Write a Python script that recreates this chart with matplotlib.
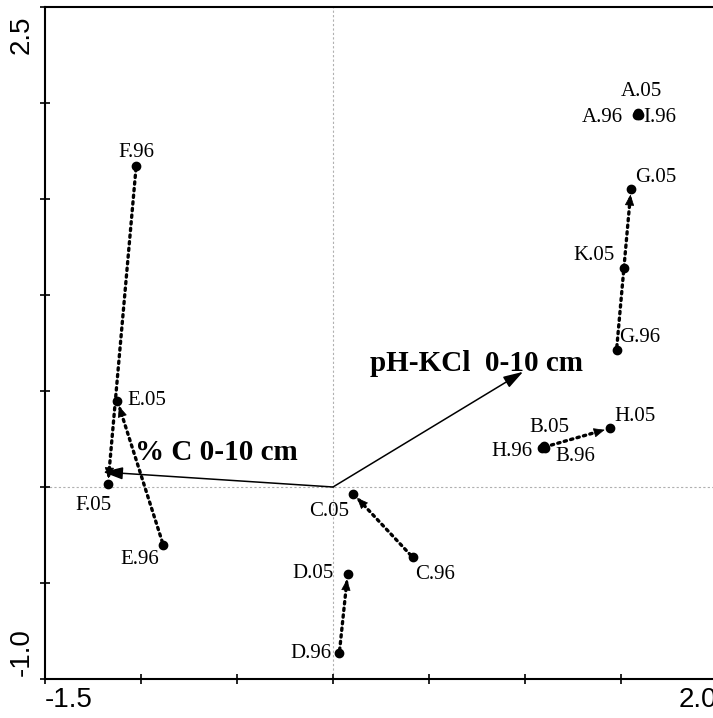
import numpy as np
import matplotlib
matplotlib.use("Agg")
import matplotlib.pyplot as plt


# site scores (axis 1, axis 2)
site_names = ["A.05", "A.96", "I.96", "B.05", "B.96", "H.96", "H.05",
              "C.05", "C.96", "D.05", "D.96", "E.05", "E.96",
              "F.05", "F.96", "G.05", "G.96", "K.05"]
site_x = [1.590, 1.585, 1.595, 1.100, 1.102, 1.090, 1.443,
          0.106, 0.415, 0.076, 0.033, -1.123, -0.884,
          -1.172, -1.025, 1.552, 1.477, 1.517]
site_y = [1.948, 1.940, 1.938, 0.212, 0.202, 0.205, 0.306,
          -0.036, -0.366, -0.453, -0.865, 0.449, -0.302,
          0.016, 1.673, 1.552, 0.715, 1.139]

# 1996 -> 2005 trajectories
traj_from = ["F.96", "E.96", "C.96", "D.96", "G.96", "H.96"]
traj_to = ["F.05", "E.05", "C.05", "D.05", "G.05", "H.05"]

# environmental vectors
env_names = ["pH-KCl  0-10 cm", "% C 0-10 cm"]
env_x = [0.99, -1.198]
env_y = [0.60, 0.078]

# axis ranges shown as end labels
x_range = [-1.5, 2.0]
y_range = [-1.0, 2.5]

# label placement: offset in pixels, ha, va
label_pos = {
    "A.05": (3, 17, "center", "baseline"),
    "A.96": (-14, -3, "right", "center"),
    "I.96": (4, -3, "left", "center"),
    "B.05": (5, 14, "center", "baseline"),
    "B.96": (11, -8, "left", "center"),
    "H.96": (-10, -4, "right", "center"),
    "H.05": (4, 7, "left", "baseline"),
    "C.05": (-4, -8, "right", "top"),
    "C.96": (2, -8, "left", "top"),
    "D.05": (-14, 0, "right", "center"),
    "D.96": (-8, 0, "right", "center"),
    "E.05": (10, 0, "left", "center"),
    "E.96": (-24, -5, "center", "top"),
    "F.05": (-15, -12, "center", "top"),
    "F.96": (0, 9, "center", "baseline"),
    "G.05": (4, 7, "left", "baseline"),
    "G.96": (3, 8, "left", "baseline"),
    "K.05": (-10, 8, "right", "baseline"),
}
env_label_pos = [(0.193, 0.604), (-1.031, 0.14)]

serif = "Liberation Serif"
sans = "Liberation Sans"

fig = plt.figure(figsize=(7.13, 7.18), dpi=100)
ax = fig.add_axes([45 / 713, 39 / 718, 672 / 713, 672 / 718])
ax.set_xlim(x_range)
ax.set_ylim(y_range)

ax.axhline(0, color="#b0b0b0", lw=0.8, ls=(0, (2, 2)), zorder=0)
ax.axvline(0, color="#b0b0b0", lw=0.8, ls=(0, (2, 2)), zorder=0)

pos = {n: np.array([x, y]) for n, x, y in zip(site_names, site_x, site_y)}

# trajectories: dotted shaft + solid small head
for a, b in zip(traj_from, traj_to):
    p0, p1 = pos[a], pos[b]
    d = (p1 - p0) / np.hypot(*(p1 - p0))
    ax.annotate("", xy=p1, xytext=p0,
                arrowprops=dict(arrowstyle="-", lw=2.4, ls=(0, (0.7, 1.3)),
                                color="black", shrinkA=2, shrinkB=6))
    ax.annotate("", xy=p1, xytext=p1 - 0.06 * d,
                arrowprops=dict(arrowstyle="-|>,head_length=0.7,head_width=0.3",
                                lw=0.5, color="black", shrinkA=0, shrinkB=4,
                                mutation_scale=10))

ax.plot(site_x, site_y, "o", color="black", ms=6, zorder=3)

for n, x, y in zip(site_names, site_x, site_y):
    dx, dy, ha, va = label_pos[n]
    ax.annotate(n, (x, y), xytext=(dx, dy), textcoords="offset pixels",
                ha=ha, va=va, fontsize=15, family=serif)

# environmental arrows
for name, x, y, (lx, ly) in zip(env_names, env_x, env_y, env_label_pos):
    ax.annotate("", xy=(x, y), xytext=(0, 0),
                arrowprops=dict(arrowstyle="-|>,head_length=0.8,head_width=0.25",
                                lw=1.1, color="black", shrinkA=0, shrinkB=0,
                                mutation_scale=15))
    ax.text(lx, ly, name, fontsize=21, fontweight="bold", family=serif,
            ha="left", va="baseline")

# axes frame
for side in ["left", "bottom", "top"]:
    ax.spines[side].set_linewidth(1.5)
ax.spines["right"].set_visible(False)
ax.set_xticks(np.arange(x_range[0], x_range[1] + 0.01, 0.5))
ax.set_yticks(np.arange(y_range[0], y_range[1] + 0.01, 0.5))
ax.tick_params(direction="inout", length=7, width=1.2,
               labelbottom=False, labelleft=False, top=False, right=False)

# range labels at the axis ends
ax.text(0, -0.012, f"{x_range[0]:.1f}", transform=ax.transAxes, ha="left", va="top",
        fontsize=20, family=sans)
ax.text(1, -0.012, f"{x_range[1]:.1f}", transform=ax.transAxes, ha="right", va="top",
        fontsize=20, family=sans)
ax.text(-0.035, 0.005, f"{y_range[0]:.1f}", transform=ax.transAxes, ha="center", va="bottom",
        rotation=90, fontsize=20, family=sans)
ax.text(-0.035, 0.988, f"{y_range[1]:.1f}", transform=ax.transAxes, ha="center", va="top",
        rotation=90, fontsize=20, family=sans)

fig.savefig("out.png", dpi=100)
